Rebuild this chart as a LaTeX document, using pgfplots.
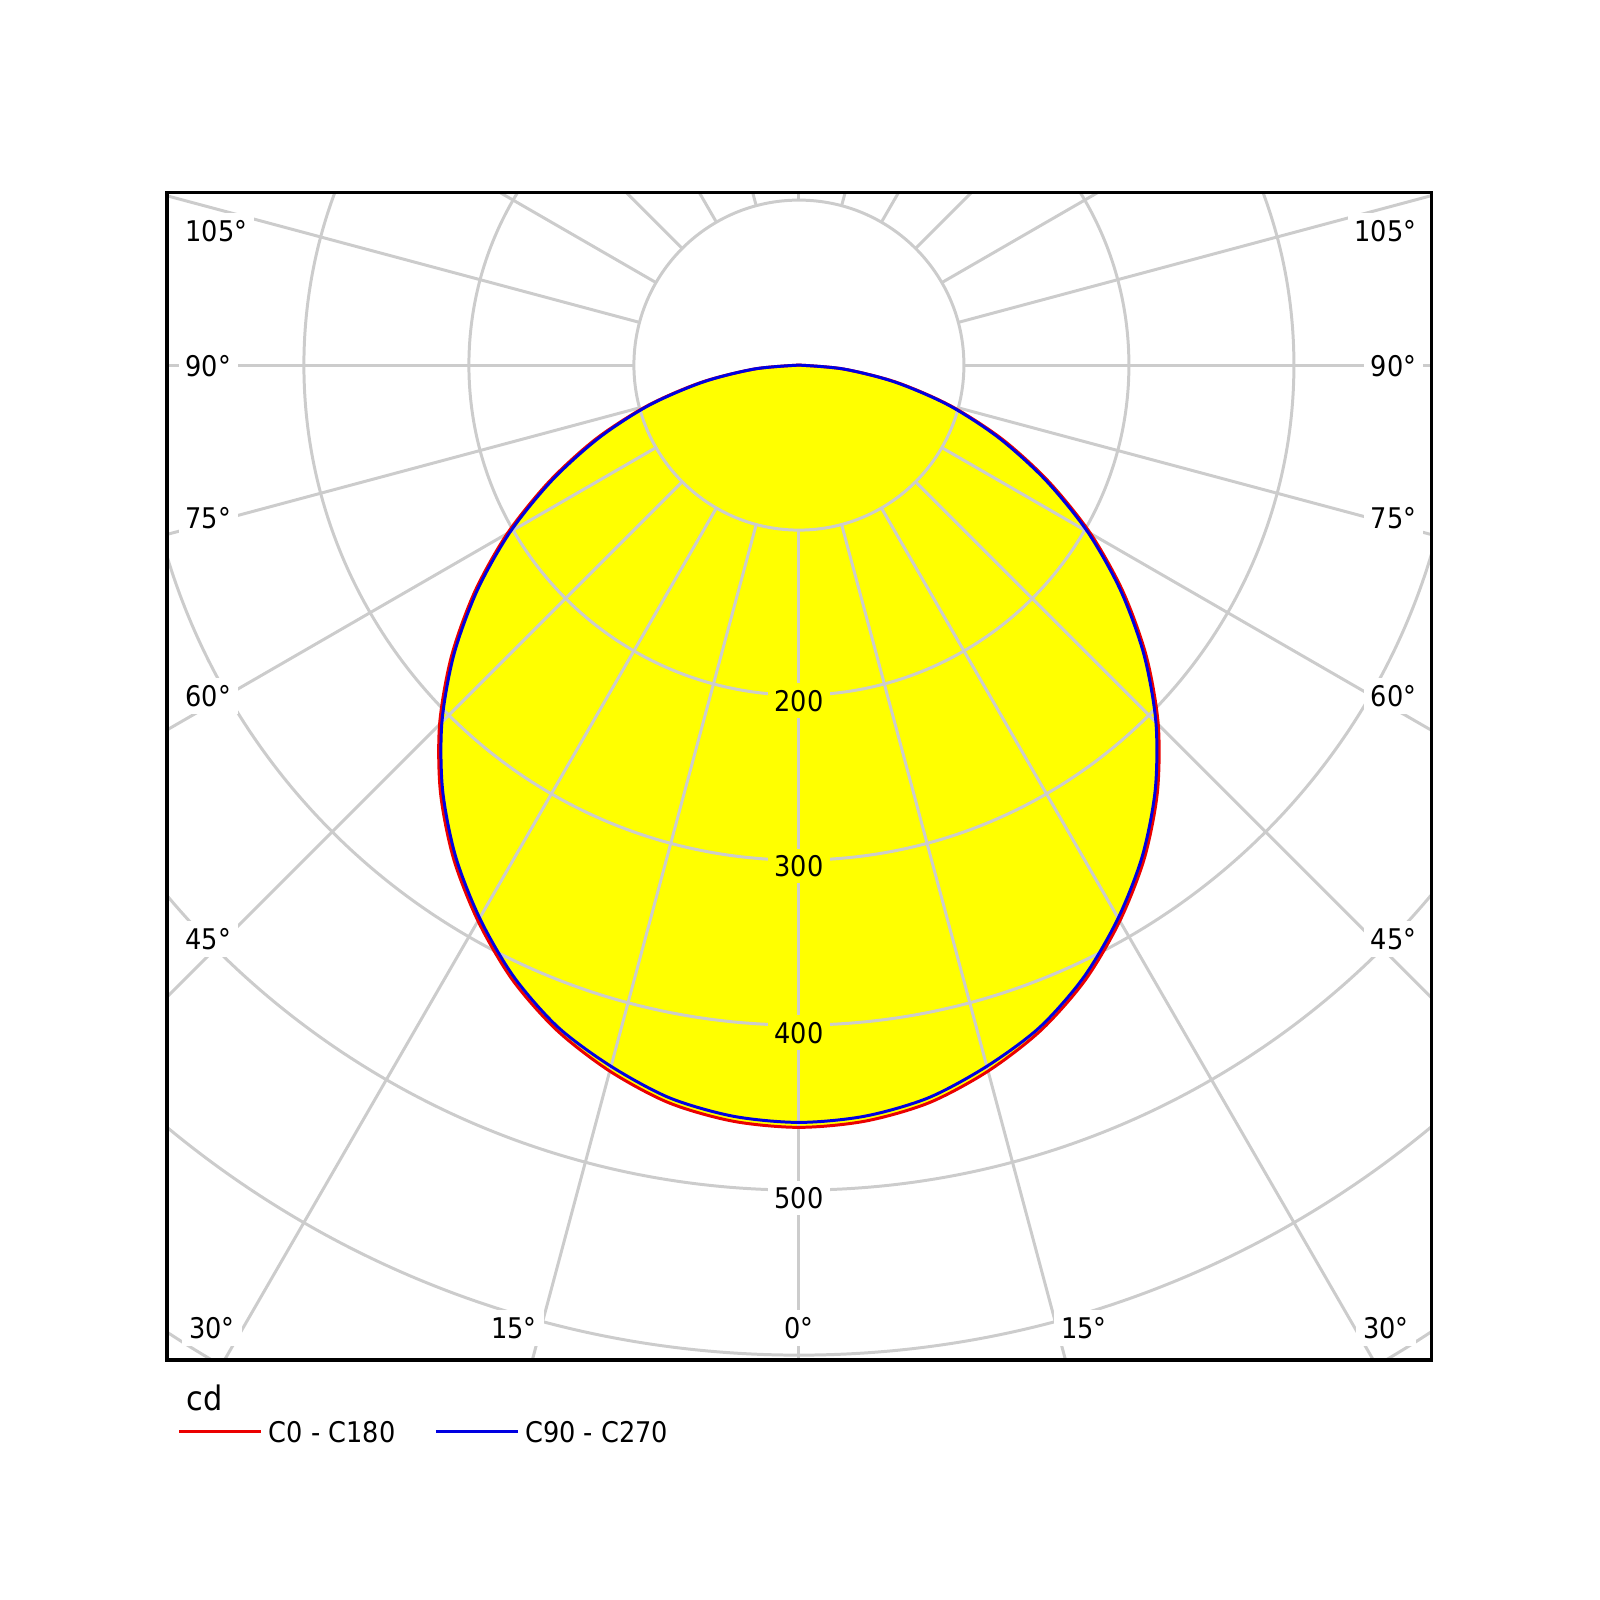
\documentclass[border=0pt]{standalone}
\usepackage{fontspec}
\setmainfont{DejaVu Sans Condensed}
\usepackage{pgfplots}
\usepackage{pgfplotstable}
\pgfplotsset{compat=1.18}
\definecolor{gridc}{RGB}{204,204,204}
\definecolor{cred}{RGB}{235,0,0}
\definecolor{cblue}{RGB}{0,0,225}
\definecolor{cyel}{RGB}{255,255,0}
\newcommand{\lblfont}{\fontsize{8.1pt}{9.7pt}\selectfont}
\newcommand{\cdfont}{\fontsize{9.6pt}{11pt}\selectfont}

% C0 - C180 : angle from nadir (deg), intensity (cd)
\pgfplotstableread{
a I
-90 0
-85 27
-80 60
-75 95
-70 131
-65 167
-60 204
-55 240
-50 275
-45 308
-40 338
-35 365
-30 389
-25 411
-20 429
-15 443
-10 454
-5 460
0 462
5 460
10 454
15 443
20 429
25 411
30 389
35 365
40 338
45 308
50 275
55 240
60 204
65 167
70 131
75 95
80 60
85 27
90 0
}\redtab

% C90 - C270
\pgfplotstableread{
a I
-90 0
-85 27
-80 59
-75 94
-70 129
-65 165
-60 202
-55 238
-50 273
-45 306
-40 336
-35 363
-30 387
-25 409
-20 427
-15 440
-10 451
-5 457
0 459
5 457
10 451
15 440
20 427
25 409
30 387
35 363
40 336
45 306
50 273
55 238
60 202
65 165
70 129
75 94
80 59
85 27
90 0
}\bluetab

\begin{document}
\begin{tikzpicture}
\useasboundingbox (0,0) rectangle (160mm,160mm);
\begin{axis}[
  at={(16.7mm,24mm)}, anchor=south west,
  x=0.165mm, y=0.165mm,
  xmin=-383.0, xmax=383.6, ymin=-603, ymax=104.8,
  xtick=\empty, ytick=\empty,
  axis line style={line width=0.9pt, black},
  axis on top,
  clip bounding box=upper bound,
  legend columns=2,
  legend image code/.code={\draw[#1] (0mm,0mm) -- (8.2mm,0mm);},
  legend style={draw=none, fill=none, at={(axis cs:-376.8,-646.5)}, anchor=west,
    inner xsep=0pt, inner ysep=0pt, font=\lblfont,
    nodes={inner sep=0.6mm, text depth=0pt},
    /tikz/every even column/.append style={column sep=3.3mm}},
]
% yellow area
\addplot[draw=none, fill=cyel, smooth, forget plot]
  table[x expr={\thisrow{I}*sin(\thisrow{a})}, y expr={-\thisrow{I}*cos(\thisrow{a})}] {\redtab};

% grid
\pgfplotsinvokeforeach{16.5,33,49.5,66,82.5,99,115.5}{
  \draw[gridc, line width=0.85pt] (axis cs:0,0) circle[radius=#1mm];
}
\pgfplotsinvokeforeach{0,15,...,345}{
  \draw[gridc, line width=0.85pt] (axis cs:{100*sin(#1)},{-100*cos(#1)}) -- (axis cs:{1400*sin(#1)},{-1400*cos(#1)});
}

% ring labels
\node[fill=cyel, inner sep=0.65mm, font=\lblfont] at (axis cs:0,-203.4) {200};
\node[fill=cyel, inner sep=0.65mm, font=\lblfont] at (axis cs:0,-303.6) {300};
\node[fill=cyel, inner sep=0.65mm, font=\lblfont] at (axis cs:0,-404.6) {400};
\node[fill=white, inner sep=0.65mm, font=\lblfont] at (axis cs:0,-504.8) {500};

% angle labels, left side
\node[fill=white, inner sep=0.7mm, anchor=west, font=\lblfont] at (axis cs:-376.4,81.2) {105°};
\node[fill=white, inner sep=0.7mm, anchor=west, font=\lblfont] at (axis cs:-376.4,-0.6) {90°};
\node[fill=white, inner sep=0.7mm, anchor=west, font=\lblfont] at (axis cs:-376.4,-92.7) {75°};
\node[fill=white, inner sep=0.7mm, anchor=west, font=\lblfont] at (axis cs:-376.4,-200.6) {60°};
\node[fill=white, inner sep=0.7mm, anchor=west, font=\lblfont] at (axis cs:-376.4,-347.9) {45°};
% right side
\node[fill=white, inner sep=0.7mm, anchor=east, font=\lblfont] at (axis cs:378.8,81.2) {105°};
\node[fill=white, inner sep=0.7mm, anchor=east, font=\lblfont] at (axis cs:378.8,-0.6) {90°};
\node[fill=white, inner sep=0.7mm, anchor=east, font=\lblfont] at (axis cs:378.8,-92.7) {75°};
\node[fill=white, inner sep=0.7mm, anchor=east, font=\lblfont] at (axis cs:378.8,-200.6) {60°};
\node[fill=white, inner sep=0.7mm, anchor=east, font=\lblfont] at (axis cs:378.8,-347.9) {45°};
% bottom
\node[fill=white, inner sep=0.7mm, font=\lblfont] at (axis cs:-355.8,-583.6) {30°};
\node[fill=white, inner sep=0.7mm, font=\lblfont] at (axis cs:-172.7,-583.6) {15°};
\node[fill=white, inner sep=0.7mm, font=\lblfont] at (axis cs:0,-583.6) {0°};
\node[fill=white, inner sep=0.7mm, font=\lblfont] at (axis cs:172.7,-583.6) {15°};
\node[fill=white, inner sep=0.7mm, font=\lblfont] at (axis cs:355.8,-583.6) {30°};

% curves
\addplot[cred, line width=0.85pt, smooth]
  table[x expr={\thisrow{I}*sin(\thisrow{a})}, y expr={-\thisrow{I}*cos(\thisrow{a})}] {\redtab};
\addlegendentry{C0 - C180}
\addplot[cblue, line width=0.85pt, smooth]
  table[x expr={\thisrow{I}*sin(\thisrow{a})}, y expr={-\thisrow{I}*cos(\thisrow{a})}] {\bluetab};
\addlegendentry{C90 - C270}
\end{axis}
\node[anchor=base west, inner sep=0pt, font=\cdfont] at (18.6mm,18.9mm) {cd};
\end{tikzpicture}
\end{document}
